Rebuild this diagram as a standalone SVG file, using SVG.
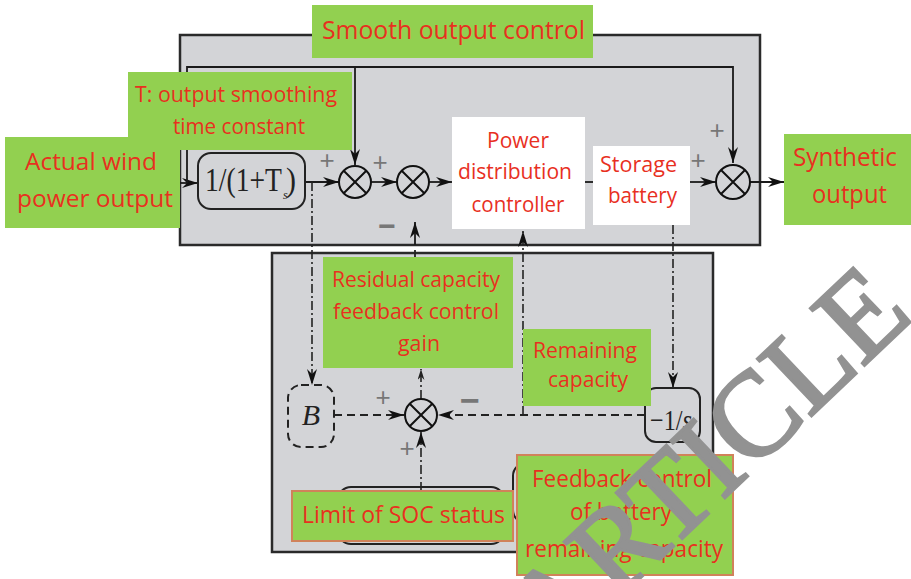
<svg xmlns="http://www.w3.org/2000/svg" width="911" height="579" viewBox="0 0 911 579">
<defs>
<marker id="ah" viewBox="0 0 16 10" refX="16" refY="5" markerWidth="16" markerHeight="10" orient="auto" markerUnits="userSpaceOnUse">
<path d="M0,0 L16,5 L0,10 L5,5 Z" fill="#111"/>
</marker>
<marker id="ahs" viewBox="0 0 16 10" refX="16" refY="5" markerWidth="11" markerHeight="7" orient="auto" markerUnits="userSpaceOnUse">
<path d="M0,0 L16,5 L0,10 L5,5 Z" fill="#222"/>
</marker>
<style>
.panel{fill:#d3d4d7;stroke:#2a2a2a;stroke-width:2.5}
.ln{fill:none;stroke:#1a1a1a;stroke-width:1.8}
.dash{fill:none;stroke:#222;stroke-width:1.8;stroke-dasharray:8,5}
.dd{fill:none;stroke:#222;stroke-width:1.6;stroke-dasharray:9,3,2,3}
.sum{fill:none;stroke:#111;stroke-width:2}
.blk{fill:none;stroke:#222;stroke-width:2}
.green{fill:#92d050}
.greenb{fill:#92d050;stroke:#d0825a;stroke-width:2}
.white{fill:#ffffff}
.lbl{font-family:"Open Sans","Noto Sans",sans-serif;fill:#e8301f}
.sign{font-family:"Liberation Sans",sans-serif;fill:#777;text-anchor:middle}
.math{font-family:"Liberation Serif",serif;fill:#222}
.wm{font-family:"Liberation Serif",serif;fill:#929292;stroke:#929292;stroke-width:3}
</style>
</defs>

<g id="smooth-panel"><rect class="panel" x="180" y="35" width="580" height="210"/></g>
<g id="soc-panel"><rect class="panel" x="272" y="253" width="441" height="299"/></g>

<g id="connectors">
<path class="ln" d="M170,183 H198" marker-end="url(#ah)"/>
<path class="ln" d="M187,183 V67 H733 V163" marker-end="url(#ah)"/>
<path class="ln" d="M355,67 V165" marker-end="url(#ah)"/>
<path class="ln" d="M305,182 H339" marker-end="url(#ah)"/>
<path class="ln" d="M371,182 H397" marker-end="url(#ah)"/>
<path class="ln" d="M429,182 H452" marker-end="url(#ah)"/>
<path class="ln" d="M585,182 H593" stroke-width="3"/>
<path class="ln" d="M690,182 H716" marker-end="url(#ah)"/>
<path class="ln" d="M750,182 H784" marker-end="url(#ah)"/>
<path class="ln" d="M415,245 V222" marker-end="url(#ah)"/>
<path class="dash" d="M415,258 V245"/>
<path class="dd" d="M312,182 V385" marker-end="url(#ah)"/>
<path class="dd" d="M523,415 V231" marker-end="url(#ah)"/>
<path class="dd" d="M673,225 V388" marker-end="url(#ah)"/>
<path class="dash" d="M645,415 H438" marker-end="url(#ah)"/>
<path class="dash" d="M334,415 H404" marker-end="url(#ah)"/>
<path class="dd" d="M421,491 V432" marker-end="url(#ah)"/>
<path class="dd" d="M421,399 V369" marker-end="url(#ahs)"/>
</g>

<g id="lowpass">
<rect class="blk" x="198" y="153" width="107" height="56" rx="13"/>
<text class="math" x="205" y="191" font-size="34" textLength="77" lengthAdjust="spacingAndGlyphs">1/(1+T</text>
<text class="math" x="283" y="199" font-size="12" font-style="italic">s</text>
<text class="math" x="286" y="191" font-size="34" textLength="10" lengthAdjust="spacingAndGlyphs">)</text>
</g>

<g id="sum1"><circle class="sum" cx="355" cy="182" r="16"/><path class="sum" d="M343.7,170.7 L366.3,193.3 M366.3,170.7 L343.7,193.3"/></g>
<g id="sum2"><circle class="sum" cx="413" cy="182" r="16"/><path class="sum" d="M401.7,170.7 L424.3,193.3 M424.3,170.7 L401.7,193.3"/></g>
<g id="sum3"><circle class="sum" cx="733" cy="182" r="17"/><path class="sum" d="M721,170 L745,194 M745,170 L721,194"/></g>
<g id="sum4"><circle class="sum" cx="421" cy="415" r="16"/><path class="sum" d="M409.7,403.7 L432.3,426.3 M432.3,403.7 L409.7,426.3"/></g>

<g id="signs">
<text class="sign" x="327" y="169" font-size="26">+</text>
<text class="sign" x="380" y="171" font-size="26">+</text>
<text class="sign" x="387" y="236" font-size="30" font-weight="bold">−</text>
<text class="sign" x="698" y="169" font-size="26">+</text>
<text class="sign" x="717" y="139" font-size="26">+</text>
<text class="sign" x="383" y="406" font-size="26">+</text>
<text class="sign" x="470" y="412" font-size="34" font-weight="bold">−</text>
<text class="sign" x="407" y="457" font-size="26">+</text>
</g>

<g id="B-block">
<rect class="blk" x="288" y="385" width="46" height="62" rx="13" stroke-dasharray="8,5"/>
<text class="math" x="311" y="425" font-size="30" font-style="italic" text-anchor="middle">B</text>
</g>

<g id="integrator">
<rect class="blk" x="645" y="388" width="55" height="54" rx="11"/>
<text class="math" x="650" y="430" font-size="30" textLength="42" lengthAdjust="spacingAndGlyphs">−1/<tspan font-style="italic">s</tspan></text>
</g>

<g id="hidden-blocks">
<rect class="blk" x="338" y="487" width="166" height="57" rx="13"/>
<rect class="blk" x="513" y="463" width="190" height="60" rx="13"/>
</g>

<g id="power-controller">
<rect class="white" x="452" y="117" width="133" height="112"/>
<text class="lbl" x="518" y="148" font-size="21" text-anchor="middle" textLength="62" lengthAdjust="spacingAndGlyphs">Power</text>
<text class="lbl" x="515" y="179" font-size="21" text-anchor="middle" textLength="114" lengthAdjust="spacingAndGlyphs">distribution</text>
<text class="lbl" x="518" y="212" font-size="21" text-anchor="middle" textLength="93" lengthAdjust="spacingAndGlyphs">controller</text>
</g>

<g id="storage-battery">
<rect class="white" x="593" y="146" width="97" height="79"/>
<text class="lbl" x="638.5" y="172" font-size="21" text-anchor="middle" textLength="77" lengthAdjust="spacingAndGlyphs">Storage</text>
<text class="lbl" x="642.5" y="203" font-size="21" text-anchor="middle" textLength="69" lengthAdjust="spacingAndGlyphs">battery</text>
</g>

<g id="label-smooth">
<rect class="green" x="312" y="5" width="281" height="53"/>
<text class="lbl" x="322" y="39" font-size="25" textLength="263" lengthAdjust="spacingAndGlyphs">Smooth output control</text>
</g>

<g id="label-wind">
<rect class="green" x="5" y="137" width="175" height="91"/>
<text class="lbl" x="25" y="170" font-size="24" textLength="132" lengthAdjust="spacingAndGlyphs">Actual wind</text>
<text class="lbl" x="17" y="207" font-size="24" textLength="156" lengthAdjust="spacingAndGlyphs">power output</text>
</g>

<g id="label-T">
<rect class="green" x="128" y="72" width="224" height="78"/>
<text class="lbl" x="135" y="102" font-size="21" textLength="202" lengthAdjust="spacingAndGlyphs">T: output smoothing</text>
<text class="lbl" x="173" y="134" font-size="21" textLength="132" lengthAdjust="spacingAndGlyphs">time constant</text>
</g>

<g id="label-synthetic">
<rect class="green" x="784" y="134" width="127" height="91"/>
<text class="lbl" x="793" y="166" font-size="25" textLength="104" lengthAdjust="spacingAndGlyphs">Synthetic</text>
<text class="lbl" x="812" y="203" font-size="25" textLength="75" lengthAdjust="spacingAndGlyphs">output</text>
</g>

<g id="label-residual">
<rect class="green" x="323" y="257" width="190" height="111"/>
<text class="lbl" x="332" y="287" font-size="21" textLength="168" lengthAdjust="spacingAndGlyphs">Residual capacity</text>
<text class="lbl" x="333" y="319" font-size="21" textLength="166" lengthAdjust="spacingAndGlyphs">feedback control</text>
<text class="lbl" x="398" y="351" font-size="21" textLength="42" lengthAdjust="spacingAndGlyphs">gain</text>
</g>

<g id="label-remaining">
<rect class="green" x="523" y="329" width="128" height="77"/>
<text class="lbl" x="533" y="358" font-size="21" textLength="104" lengthAdjust="spacingAndGlyphs">Remaining</text>
<text class="lbl" x="548" y="387" font-size="21" textLength="80" lengthAdjust="spacingAndGlyphs">capacity</text>
</g>

<g id="label-limit">
<rect class="greenb" x="292" y="491" width="221" height="50"/>
<text class="lbl" x="302" y="523" font-size="24" textLength="203" lengthAdjust="spacingAndGlyphs">Limit of SOC status</text>
</g>

<g id="label-feedback">
<rect class="greenb" x="517" y="455" width="216" height="120"/>
<text class="lbl" x="532" y="487" font-size="24" textLength="180" lengthAdjust="spacingAndGlyphs">Feedback control</text>
<text class="lbl" x="570" y="520" font-size="24" textLength="102" lengthAdjust="spacingAndGlyphs">of battery</text>
<text class="lbl" x="525" y="557" font-size="24" textLength="198" lengthAdjust="spacingAndGlyphs">remaining capacity</text>
</g>

<g id="watermark">
<text class="wm" x="553" y="661" font-size="120" transform="rotate(-43.5 553 661)">ARTICLE</text>
</g>
</svg>
